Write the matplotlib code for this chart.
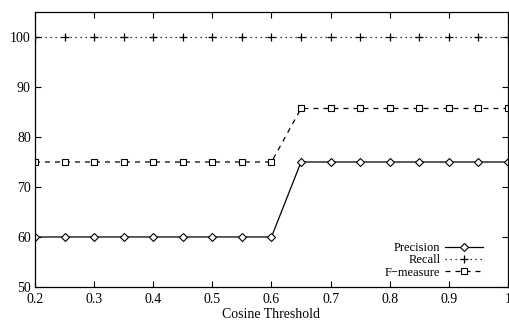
import matplotlib
matplotlib.use("Agg")
from matplotlib import pyplot as plt

thresholds = [0.2, 0.25, 0.3, 0.35, 0.4, 0.45, 0.5, 0.55, 0.6,
              0.65, 0.7, 0.75, 0.8, 0.85, 0.9, 0.95, 1.0]
precision = [60, 60, 60, 60, 60, 60, 60, 60, 60,
             75, 75, 75, 75, 75, 75, 75, 75]
recall = [100] * 17
f_measure = [75, 75, 75, 75, 75, 75, 75, 75, 75,
             85.7, 85.7, 85.7, 85.7, 85.7, 85.7, 85.7, 85.7]

x_ticks = [0.2, 0.3, 0.4, 0.5, 0.6, 0.7, 0.8, 0.9, 1.0]
x_labels = ["0.2", "0.3", "0.4", "0.5", "0.6", "0.7", "0.8", "0.9", "1"]
y_ticks = [50, 60, 70, 80, 90, 100]

plt.rcParams['font.family'] = ['Liberation Serif', 'DejaVu Serif']

fig = plt.figure(figsize=(5.1, 3.21), dpi=100)
ax = fig.add_axes([0.0686, 0.106, 0.9274, 0.8566])

ax.plot(thresholds, precision, color='black', lw=0.9, ls='-',
        marker='D', markersize=3.6, markerfacecolor='white',
        markeredgewidth=0.8, label='Precision')
ax.plot(thresholds, recall, color='black', lw=0.9, ls=(0, (1, 3)),
        marker='+', markersize=6, markeredgewidth=0.9, label='Recall')
ax.plot(thresholds, f_measure, color='black', lw=0.9, ls=(0, (4, 4)),
        marker='s', markersize=5, markerfacecolor='white',
        markeredgewidth=0.8, label='F\u2212measure')

ax.set_xlim(0.2, 1.0)
ax.set_ylim(50, 105)
ax.set_xticks(x_ticks)
ax.set_xticklabels(x_labels)
ax.set_yticks(y_ticks)
ax.tick_params(direction='in', length=4, width=0.8, top=True, right=True,
               labelsize=10, pad=4)
ax.tick_params(axis='y', pad=3)
for s in ax.spines.values():
    s.set_linewidth(0.9)

ax.set_xlabel('Cosine Threshold', fontsize=10, labelpad=2)

ax.legend(loc='lower right', bbox_to_anchor=(0.947, 0.03), frameon=False,
          markerfirst=False, fontsize=9, handlelength=3.0,
          handletextpad=0.4, labelspacing=0.02, borderpad=0, borderaxespad=0)

fig.savefig('out.png', dpi=100)
